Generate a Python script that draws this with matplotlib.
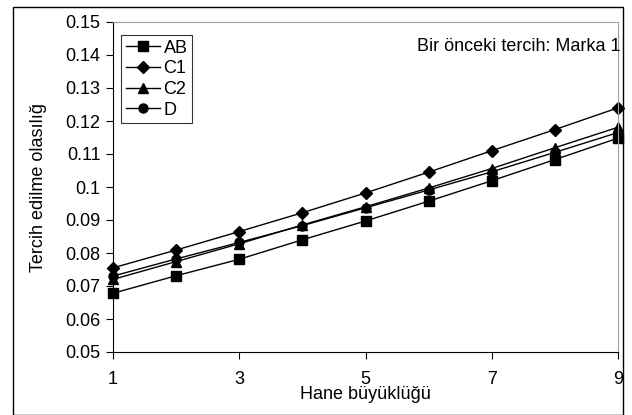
import numpy as np
import matplotlib
matplotlib.use('Agg')
import matplotlib.pyplot as plt
from matplotlib.patches import Rectangle

plt.rcParams['font.family'] = ['Liberation Sans', 'DejaVu Sans']

# Household size vs. choice probability (previous choice: brand 1)
hane = [1, 2, 3, 4, 5, 6, 7, 8, 9]
ab = [0.0678, 0.0731, 0.0781, 0.0840, 0.0897, 0.0957, 0.1019, 0.1083, 0.1148]
c1 = [0.0755, 0.0809, 0.0865, 0.0922, 0.0982, 0.1045, 0.1110, 0.1174, 0.1240]
c2 = [0.0720, 0.0774, 0.0828, 0.0885, 0.0940, 0.0997, 0.1056, 0.1119, 0.1181]
d = [0.0730, 0.0782, 0.0832, 0.0883, 0.0937, 0.0991, 0.1046, 0.1105, 0.1165]

series = [('AB', ab, 's'), ('C1', c1, 'D'), ('C2', c2, '^'), ('D', d, 'o')]

W, H = 632, 415
fs = 13
fig = plt.figure(figsize=(W / 100, H / 100), dpi=100)
ax = fig.add_axes([113 / W, 1 - 352 / H, (618 - 113) / W, (352 - 22) / H])

for name, vals, mk in series:
    ms = 6 if mk == 'D' else 6.5
    ax.plot(hane, vals, color='black', lw=1, marker=mk, ms=ms,
            markerfacecolor='black', markeredgecolor='black', label=name,
            clip_on=False)

ax.set_xlim(1, 9)
ax.set_ylim(0.05, 0.15)
ax.set_xticks([1, 3, 5, 7, 9])
ax.set_xticklabels(['1', '3', '5', '7', '9'])
yt = np.round(np.arange(0.05, 0.151, 0.01), 2)
ax.set_yticks(yt)
ax.set_yticklabels(['%g' % v for v in yt])
ax.tick_params(direction='out', length=5, labelsize=fs, colors='black')
ax.tick_params(axis='y', pad=4)
ax.tick_params(axis='x', pad=9)

for s in ['top', 'right']:
    ax.spines[s].set_color('#a0a0a0')
ax.spines['left'].set_color('black')
ax.spines['bottom'].set_color('black')

ax.set_xlabel('Hane büyüklüğü', fontsize=fs, labelpad=-2)
ax.set_ylabel('Tercih edilme olasılığ', fontsize=fs, labelpad=13)

ax.text(1.004, 0.927, 'Bir önceki tercih: Marka 1', transform=ax.transAxes,
        ha='right', va='center', fontsize=fs)

leg = ax.legend(loc='upper left', bbox_to_anchor=(0.016, 0.96), fontsize=fs,
                frameon=True, fancybox=False, edgecolor='black',
                handlelength=1.9, handletextpad=0.2, labelspacing=0.2,
                borderpad=0.25, borderaxespad=0)
leg.get_frame().set_linewidth(0.8)

# outer chart frame
fig.patches.append(Rectangle((13 / W, 0.5 / H), (623 - 13) / W, (408 - 0.5) / H,
                             transform=fig.transFigure, fill=False,
                             edgecolor='black', lw=1))

fig.savefig('out.png', dpi=100)
